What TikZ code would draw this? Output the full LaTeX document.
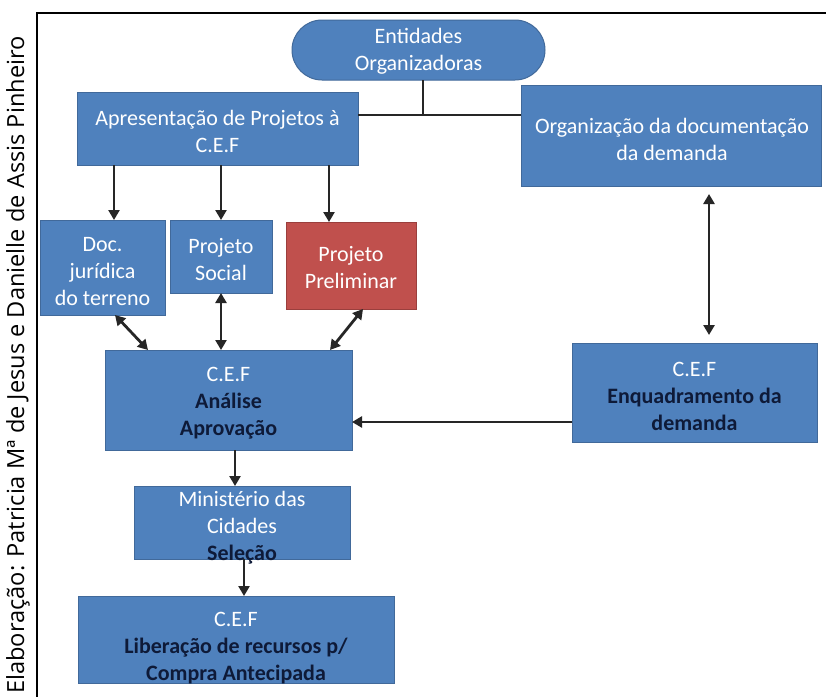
\documentclass[tikz,border=0pt]{standalone}
\usepackage{fontspec}
\setmainfont{Carlito}
\newfontfamily\credfont{Open Sans}
\usetikzlibrary{arrows.meta}
\definecolor{boxblue}{HTML}{4F81BD}
\definecolor{boxedge}{HTML}{41699A}
\definecolor{boxred}{HTML}{C0504D}
\definecolor{rededge}{HTML}{9A3F3D}
\definecolor{navy}{HTML}{0E1A38}
\begin{document}
\begin{tikzpicture}[x=1pt,y=-1pt,
  box/.style={draw=boxedge, line width=1pt, fill=boxblue, inner sep=0pt, outer sep=0pt},
  redbox/.style={box, draw=rededge, fill=boxred},
  txt/.style={align=center, font=\fontsize{22}{27}\selectfont, text=white, inner sep=0pt},
  conn/.style={line width=2.8pt, draw=black!85},
  arr/.style={conn, -{Triangle[length=10pt,width=11pt]}},
  darr/.style={conn, {Triangle[length=10pt,width=11pt]}-{Triangle[length=10pt,width=11pt]}},
  bt/.style={text=navy, font=\bfseries}
]
\useasboundingbox (0,0) rectangle (826,696);
\fill[white] (0,0) rectangle (826,696);
% frame
\draw[line width=1.6pt] (37,700) -- (37,13) -- (830,13);
% credit
\node[rotate=90, inner sep=0pt, font=\credfont\fontsize{23.6}{28}\selectfont] (cred) at (18,365) {Elaboração: Patricia Mª de Jesus e Danielle de Assis Pinheiro};

% boxes
\node[box, rounded corners=30pt, minimum width=253pt, minimum height=60pt] (ent) at (418.5,50) {};
\node[box, minimum width=281pt, minimum height=73pt] (apr) at (217.5,128.5) {};
\node[box, minimum width=300pt, minimum height=101pt] (org) at (671,135.5) {};
\node[box, minimum width=125pt, minimum height=95pt] (doc) at (102.5,267.5) {};
\node[box, minimum width=102pt, minimum height=73pt] (soc) at (221,256.5) {};
\node[redbox, minimum width=130pt, minimum height=87pt] (pre) at (351,265.5) {};
\node[box, minimum width=247pt, minimum height=100pt] (ana) at (228.5,400) {};
\node[box, minimum width=245pt, minimum height=99pt] (enq) at (694.5,392.5) {};
\node[box, minimum width=216pt, minimum height=73pt] (min) at (242,522.5) {};
\node[box, minimum width=316pt, minimum height=87pt] (lib) at (236,639.5) {};

% texts
\node[txt] (ent-t) at (418.5,51.5) {Entidades\\Organizadoras};
\node[txt] (apr-t) at (217.5,131) {Apresentação de Projetos à\\C.E.F};
\node[txt] (org-t) at (672,139) {Organização da documentação\\da demanda};
\node[txt] (doc-t) at (102.5,272) {Doc.\\jurídica\\do terreno};
\node[txt] (soc-t) at (221,259.5) {Projeto\\Social};
\node[txt] (pre-t) at (351,267.5) {Projeto\\Preliminar};
\node[txt] (ana-t) at (228.5,403) {C.E.F\\{\bfseries\color{navy}Análise}\\{\bfseries\color{navy}Aprovação}};
\node[txt] (enq-t) at (694.5,396) {C.E.F\\{\bfseries\color{navy}Enquadramento da}\\{\bfseries\color{navy}demanda}};
\node[txt] (min-t) at (242,528) {Ministério das\\Cidades\\{\bfseries\color{navy}Seleção}};
\node[txt] (lib-t) at (236,648) {C.E.F\\{\bfseries\color{navy}Liberação de recursos p/}\\{\bfseries\color{navy}Compra Antecipada}};

% connectors
\coordinate (j) at (423,115);
\draw[conn] (j |- ent.south) -- (j);
\draw[conn] (apr.east |- j) -- (org.west |- j);

\draw[arr] ([xshift=11.5pt]doc.north |- apr.south) -- ([xshift=11.5pt]doc.north);
\draw[arr] (soc.north |- apr.south) -- (soc.north);
\draw[arr] ([xshift=-22pt]pre.north |- apr.south) -- ([xshift=-22pt]pre.north);

\draw[darr] ([xshift=12.5pt]doc.south) -- ([xshift=-80.5pt]ana.north);
\draw[darr] (soc.south) -- (soc.south |- ana.north);
\draw[darr] ([xshift=12pt]pre.south) -- ([xshift=101.5pt]ana.north);

\draw[darr, shorten <=8pt, shorten >=8pt] ([xshift=38pt]org.south) -- ([xshift=38pt]org.south |- enq.north);
\path ([yshift=-29.5pt]enq.west) coordinate (e1);
\draw[arr] (e1) -- (e1 -| ana.east);

\draw[arr] ([xshift=6.5pt]ana.south) -- ([xshift=6.5pt]ana.south |- min.north);
\draw[arr] ([xshift=2pt]min.south) -- ([xshift=2pt]min.south |- lib.north);
\end{tikzpicture}
\end{document}
